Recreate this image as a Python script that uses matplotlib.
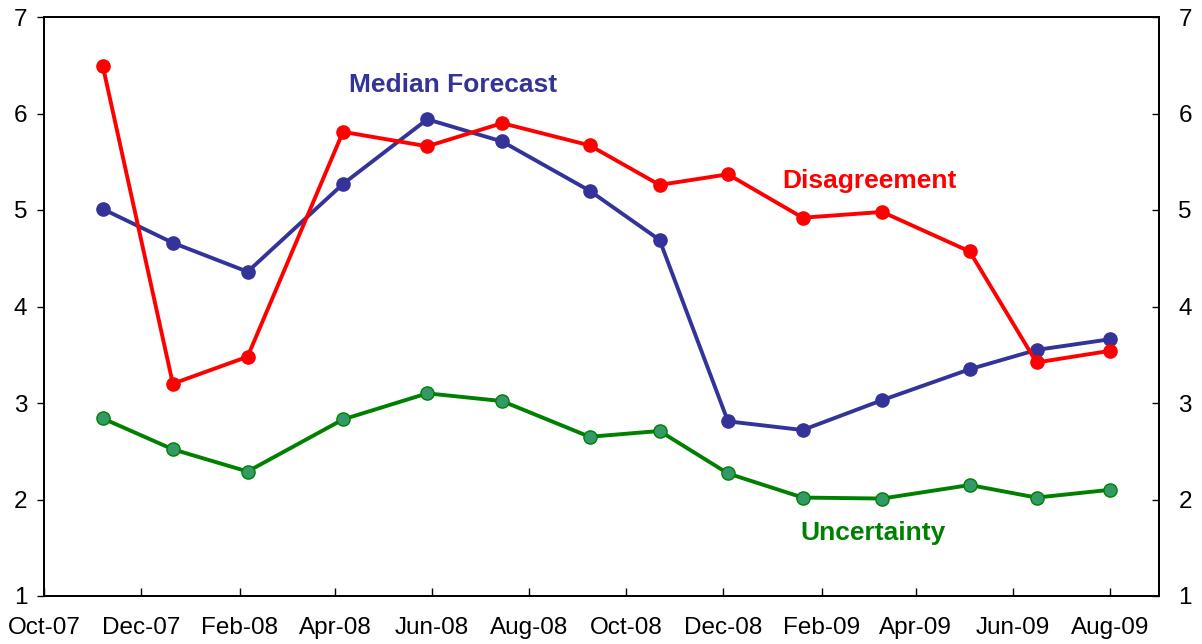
import pandas as pd
import matplotlib
matplotlib.use("Agg")
import matplotlib.pyplot as plt
import matplotlib.dates as mdates

plt.rcParams['font.family'] = ['Liberation Sans', 'DejaVu Sans']

# survey dates and values
dates = pd.to_datetime([
    "2007-11-07", "2007-12-21", "2008-02-06", "2008-04-06", "2008-05-29",
    "2008-07-15", "2008-09-08", "2008-10-22", "2008-12-04", "2009-01-20",
    "2009-03-11", "2009-05-05", "2009-06-16", "2009-08-01",
])
median_forecast = [5.01, 4.66, 4.36, 5.27, 5.94, 5.71, 5.20, 4.69, 2.81, 2.72,
                   3.03, 3.35, 3.55, 3.66]
disagreement = [6.49, 3.20, 3.48, 5.81, 5.66, 5.90, 5.67, 5.26, 5.37, 4.92,
                4.98, 4.57, 3.42, 3.54]
uncertainty = [2.84, 2.52, 2.29, 2.83, 3.10, 3.02, 2.65, 2.71, 2.27, 2.02,
               2.01, 2.15, 2.02, 2.10]

blue = '#333399'
red = '#ff0000'
green = '#008000'

fig = plt.figure(figsize=(12.02, 6.44), dpi=100)
ax = fig.add_axes([44 / 1202, 1 - 596 / 644, (1159 - 44) / 1202, (596 - 17) / 644])

ax.plot(dates, median_forecast, color=blue, lw=2.8, marker='o', ms=9.5,
        mfc=blue, mec=blue, zorder=3)
ax.plot(dates, disagreement, color=red, lw=2.8, marker='o', ms=9.5,
        mfc=red, mec=red, zorder=3)
ax.plot(dates, uncertainty, color=green, lw=2.8, marker='o', ms=9.5,
        mfc='#339966', mec=green, mew=1.0, zorder=3)

ax.set_xlim(pd.Timestamp("2007-10-01"), pd.Timestamp("2009-09-01"))
ax.set_ylim(1, 7)
ax.set_yticks(range(1, 8))

ax.xaxis.set_major_locator(mdates.MonthLocator(bymonth=[2, 4, 6, 8, 10, 12]))
ax.xaxis.set_major_formatter(mdates.DateFormatter('%b-%y'))
ax.tick_params(axis='x', direction='in', length=6, width=1, labelsize=17.5, pad=15)
ax.tick_params(axis='y', direction='out', length=5, width=1, labelsize=17.5, pad=7)

ax2 = ax.twinx()
ax2.set_ylim(1, 7)
ax2.set_yticks(range(1, 8))
ax2.tick_params(axis='y', direction='in', length=5, width=1, labelsize=17.5, pad=14)

for a in (ax, ax2):
    for s in a.spines.values():
        s.set_linewidth(1.3)

ax.text(pd.Timestamp("2008-06-14"), 6.30, 'Median Forecast', color=blue,
        fontsize=19, fontweight='bold', ha='center', va='center')
ax.text(pd.Timestamp("2009-03-03"), 5.30, 'Disagreement', color=red,
        fontsize=19, fontweight='bold', ha='center', va='center')
ax.text(pd.Timestamp("2009-03-05"), 1.65, 'Uncertainty', color=green,
        fontsize=19, fontweight='bold', ha='center', va='center')

fig.savefig('out.png', dpi=100)
